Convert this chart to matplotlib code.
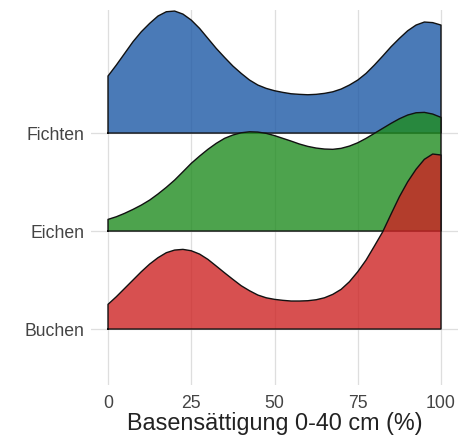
import matplotlib
matplotlib.use("Agg")
import matplotlib.pyplot as plt
import numpy as np

plt.rcParams['font.family'] = ['Liberation Sans', 'DejaVu Sans']

# groups from top to bottom (drawing order)
groups = ['Fichten', 'Eichen', 'Buchen']
baselines = [3, 2, 1]
colors = ['#1d59a5', '#208c20', '#cd2424']

# Basensättigung (%) where the densities were read
x_vals = [0, 2.5, 5, 7.5, 10, 12.5, 15, 17.5, 20, 22.5, 25, 27.5, 30, 32.5, 35, 37.5, 40,
          42.5, 45, 47.5, 50, 52.5, 55, 57.5, 60, 62.5, 65, 67.5, 70, 72.5, 75, 77.5, 80,
          82.5, 85, 87.5, 90, 92.5, 95, 97.5, 100]

# ridge heights (row units)
fichten_h = [0.582, 0.694, 0.813, 0.932, 1.034, 1.119, 1.194, 1.238, 1.245, 1.214, 1.153,
             1.068, 0.966, 0.864, 0.772, 0.684, 0.609, 0.541, 0.490, 0.456, 0.432, 0.415,
             0.401, 0.395, 0.391, 0.395, 0.405, 0.421, 0.449, 0.490, 0.541, 0.609, 0.694,
             0.786, 0.881, 0.966, 1.044, 1.102, 1.133, 1.127, 1.102]
eichen_h = [0.119, 0.146, 0.181, 0.221, 0.265, 0.316, 0.378, 0.446, 0.520, 0.605, 0.691,
            0.765, 0.834, 0.895, 0.946, 0.980, 1.003, 1.013, 1.010, 0.997, 0.974, 0.946,
            0.918, 0.888, 0.864, 0.847, 0.837, 0.834, 0.844, 0.867, 0.901, 0.946, 0.997,
            1.048, 1.099, 1.146, 1.184, 1.207, 1.211, 1.194, 1.160]
buchen_h = [0.252, 0.330, 0.415, 0.500, 0.585, 0.663, 0.728, 0.779, 0.806, 0.813, 0.799,
            0.765, 0.711, 0.643, 0.574, 0.507, 0.442, 0.391, 0.347, 0.319, 0.303, 0.293,
            0.286, 0.286, 0.289, 0.299, 0.319, 0.354, 0.405, 0.483, 0.585, 0.704, 0.847,
            0.993, 1.173, 1.350, 1.503, 1.630, 1.732, 1.786, 1.776]

curves_h = [fichten_h, eichen_h, buchen_h]

fig = plt.figure(figsize=(4.69, 4.38), dpi=100)
ax = fig.add_axes([0.1948, 0.121, 0.781, 0.856])

for i, g in enumerate(groups):
    xs = np.array(x_vals)
    ys = baselines[i] + np.array(curves_h[i])
    px = np.concatenate([[xs[0]], xs, [xs[-1]]])
    py = np.concatenate([[baselines[i]], ys, [baselines[i]]])
    ax.fill(px, py, facecolor=colors[i], alpha=0.8, edgecolor='none', zorder=2 + i)
    ax.plot(np.append(px, px[0]), np.append(py, py[0]), color='#111111', lw=1.0,
            zorder=2 + i, solid_joinstyle='round')

ax.set_xlim(-5, 105)
ax.set_ylim(0.429, 4.255)
ax.set_xticks([0, 25, 50, 75, 100])
ax.set_yticks(baselines)
ax.set_yticklabels(groups)
ax.grid(True, color='#dedede', lw=0.9, zorder=0)
ax.set_axisbelow(True)
for s in ax.spines.values():
    s.set_visible(False)
ax.tick_params(length=0, labelsize=12.7, colors='#444444', pad=5)
ax.tick_params(axis='x', pad=7)
ax.set_xlabel('Basensättigung 0-40 cm (%)', fontsize=16.8, color='#222222', labelpad=0)

fig.savefig('out.png', dpi=100)
